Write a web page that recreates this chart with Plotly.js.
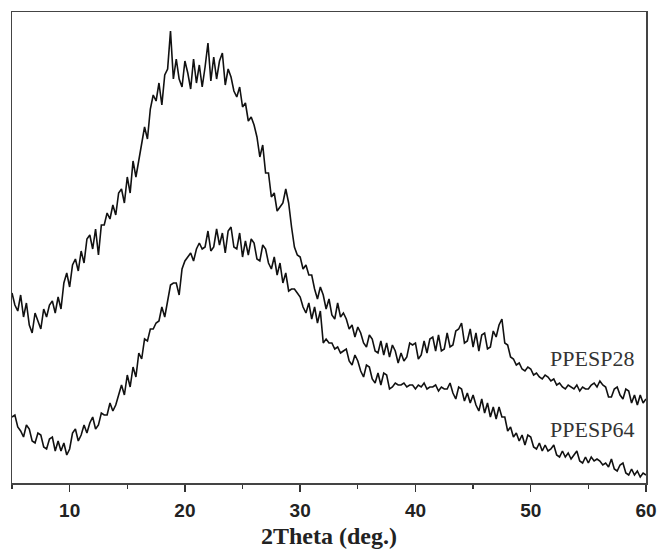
<!DOCTYPE html>
<html>
<head>
<meta charset="utf-8">
<script src="https://cdn.plot.ly/plotly-3.0.1.min.js"></script>
<style>html,body{margin:0;padding:0;background:#fff;}#chart{width:658px;height:549px;}</style>
</head>
<body>
<div id="chart"></div>
<script>
// 2Theta scan grid (deg.)
var thetaStart = 5;
var thetaStep = 0.25;

// PPESP28 intensity (a.u.), one row per degree (5.00, 5.25, 5.50, 5.75 ...)
var ppesp28 = [
  190,178,172,188,
  166,180,158,150,
  170,162,154,174,
  166,178,182,170,
  186,174,200,210,
  196,218,224,212,
  232,220,244,248,
  234,254,228,258,
  258,270,264,278,
  268,290,294,280,
  306,290,322,306,
  324,338,356,344,
  374,388,382,400,
  378,408,414,452,
  404,424,404,396,
  422,410,394,424,
  400,418,396,416,
  440,402,426,404,
  422,430,398,414,
  406,392,386,396,
  376,380,362,366,
  358,346,326,338,
  310,310,286,290,
  272,276,280,294,
  280,256,236,228,
  226,214,218,208,
  208,194,184,196,
  188,174,184,168,
  164,180,166,170,
  164,154,158,146,
  156,150,140,136,
  148,144,132,130,
  142,128,140,126,
  138,132,120,130,
  122,126,140,138,
  140,124,128,142,
  130,144,146,132,
  148,132,134,150,
  136,138,152,154,
  160,140,142,154,
  136,150,132,148,
  150,134,136,152,
  146,158,164,140,
  138,126,124,118,
  120,114,112,116,
  114,108,110,106,
  104,108,106,102,
  104,98,100,96,
  94,98,96,94,
  98,92,96,94,
  94,98,100,96,
  102,98,96,86,
  86,94,96,88,
  84,94,92,80,
  88,78,88,80,
  84
];

// PPESP64 intensity (a.u.)
var ppesp64 = [
  66,68,56,52,
  46,58,54,42,
  40,50,48,36,
  34,44,46,32,
  42,32,40,28,
  34,50,54,42,
  48,58,50,60,
  66,54,58,70,
  68,68,80,72,
  78,88,98,88,
  108,96,116,106,
  130,124,144,142,
  154,154,160,162,
  176,166,184,198,
  200,200,188,214,
  222,226,230,222,
  234,240,234,236,
  252,232,236,254,
  238,250,230,252,
  256,236,234,250,
  226,242,228,244,
  240,224,222,238,
  234,220,214,226,
  208,220,200,210,
  192,194,194,190,
  186,176,170,180,
  164,176,160,172,
  140,144,140,140,
  134,136,130,132,
  134,122,118,128,
  122,112,106,118,
  116,104,100,110,
  98,110,108,94,
  96,100,98,98,
  100,96,98,98,
  94,98,96,100,
  94,96,96,98,
  92,96,94,94,
  100,90,84,96,
  94,82,90,80,
  88,78,72,84,
  70,80,66,76,
  64,76,66,66,
  52,56,46,50,
  42,48,38,48,
  46,36,34,40,
  32,38,32,34,
  38,28,26,32,
  26,30,24,28,
  32,22,20,26,
  20,26,22,24,
  22,18,20,16,
  24,14,12,18,
  20,10,8,14,
  8,12,6,10,
  8
];

var seriesNames = ['PPESP28', 'PPESP64'];
var xTickVals = [10, 20, 30, 40, 50, 60];
var xTitle = '2Theta (deg.)';

function grid(n) {
  var t = [];
  for (var i = 0; i < n; i++) t.push(+(thetaStart + i * thetaStep).toFixed(2));
  return t;
}

var traces = [ppesp28, ppesp64].map(function (ys, k) {
  return {
    x: grid(ys.length), y: ys, type: 'scatter', mode: 'lines', name: seriesNames[k],
    line: {color: '#111', width: 1.6}, showlegend: false, hoverinfo: 'skip'
  };
});

var serif = 'Liberation Serif, Times New Roman, serif';

var layout = {
  width: 658, height: 549,
  margin: {l: 12, r: 12, t: 12, b: 66},
  paper_bgcolor: '#fff', plot_bgcolor: '#fff',
  showlegend: false,
  xaxis: {
    range: [5, 60], tickvals: xTickVals, ticks: 'outside', ticklen: 7, tickwidth: 1.5, tickcolor: '#333',
    minor: {dtick: 5, tick0: 0, ticks: 'outside', ticklen: 4, tickwidth: 1.2, tickcolor: '#333'},
    showline: true, mirror: true, linecolor: '#444', linewidth: 1.5,
    showgrid: false, zeroline: false, ticklabelstandoff: 3,
    tickfont: {family: 'Liberation Sans Narrow, Liberation Sans, Arial, sans-serif', size: 19, color: '#222', weight: 'bold'},
    title: {text: xTitle, standoff: 8, font: {family: serif, size: 24, color: '#222', weight: 'bold'}}
  },
  yaxis: {
    range: [0, 471], showticklabels: false, ticks: '',
    showline: true, mirror: true, linecolor: '#444', linewidth: 1.5,
    showgrid: false, zeroline: false
  },
  annotations: [
    {x: 59.15, y: 125, xref: 'x', yref: 'y', xanchor: 'right', yanchor: 'middle', showarrow: false,
     text: seriesNames[0], font: {family: serif, size: 22, color: '#333'}},
    {x: 59.15, y: 54, xref: 'x', yref: 'y', xanchor: 'right', yanchor: 'middle', showarrow: false,
     text: seriesNames[1], font: {family: serif, size: 22, color: '#333'}}
  ]
};

Plotly.newPlot('chart', traces, layout, {displayModeBar: false, staticPlot: true});
</script>
</body>
</html>
